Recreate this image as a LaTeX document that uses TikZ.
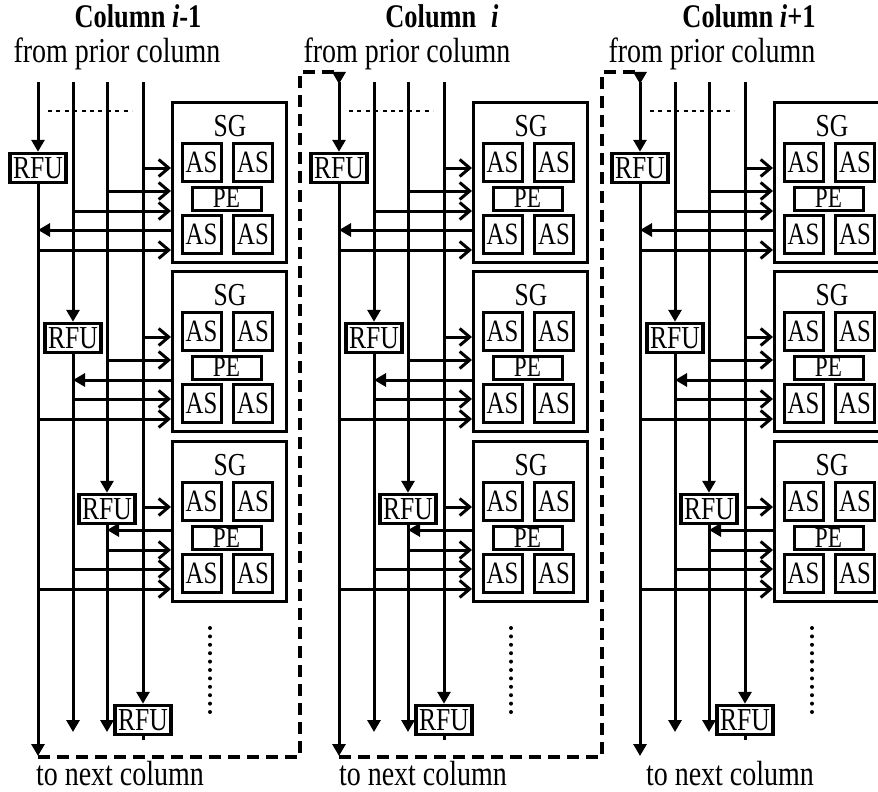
\documentclass[tikz,border=0pt]{standalone}
\usepackage{fontspec}
\setmainfont{Liberation Serif}[FakeStretch=0.8]
\usetikzlibrary{arrows.meta}
\begin{document}
\begin{tikzpicture}[x=1pt,y=-1pt,
  wire/.style={line width=3pt},
  tipr/.style={wire,-{Straight Barb[length=10pt,width=17pt]}},
  tipl/.style={wire,{Triangle[length=12pt,width=13pt]}-},
  darr/.style={wire,-{Triangle[length=12pt,width=13pt]}},
  rfubox/.style={draw,line width=3.5pt,inner sep=0pt,minimum width=56pt,minimum height=29pt,font=\fontsize{32}{32}\selectfont},
  sgbox/.style={draw,line width=3pt,inner sep=0pt,minimum width=114pt,minimum height=160pt,anchor=north west},
  sglbl/.style={inner sep=0pt,font=\fontsize{32}{32}\selectfont},
  asbox/.style={draw,line width=3pt,inner sep=0pt,minimum width=39pt,minimum height=38pt,font=\fontsize{31}{31}\selectfont},
  pebox/.style={draw,line width=3pt,inner sep=0pt,minimum width=69pt,minimum height=23pt,font=\fontsize{29}{29}\selectfont},
  lbl/.style={font=\fontsize{35}{35}\selectfont,anchor=base,inner sep=0pt},
  ttl/.style={font=\fontsize{33}{33}\selectfont\bfseries,anchor=base,inner sep=0pt},
  dashline/.style={line width=3.5pt,dash pattern=on 12pt off 7pt},
  dotline/.style={line width=2.2pt,dash pattern=on 4pt off 4.4pt},
]
\useasboundingbox (0,0) rectangle (878,792);
\clip (0,0) rectangle (878,792);

\foreach \c in {0,1,2} {
  \pgfmathsetmacro\o{301*\c}
  % vertical line anchors
  \coordinate (top1-\c) at (38+\o,82);
  \coordinate (top2-\c) at (73+\o,82);
  \coordinate (top3-\c) at (107+\o,82);
  \coordinate (top4-\c) at (143+\o,82);
  \coordinate (in1-\c) at (38+\o,84);
  \coordinate (bot1-\c) at (38+\o,756);
  \coordinate (bot2-\c) at (73+\o,732);
  \coordinate (bot3-\c) at (107+\o,732);
  \coordinate (stub-\c) at (143+\o,740);
  % RFU boxes
  \node[rfubox] (rfu-\c-1) at (38+\o,168) {RFU};
  \node[rfubox] (rfu-\c-2) at (73+\o,338) {RFU};
  \node[rfubox] (rfu-\c-3) at (107+\o,509) {RFU};
  \node[rfubox] (rfu-\c-4) at (143+\o,720) {RFU};
  % SG groups
  \foreach \k/\t in {1/101,2/270,3/440} {
    \node[sgbox] (sg-\c-\k) at (171+\o,\t) {};
    \node[sglbl] (sgl-\c-\k) at (230+\o,\t+25) {SG};
    \node[asbox] (asa-\c-\k) at (201.5+\o,\t+61) {AS};
    \node[asbox] (asb-\c-\k) at (253+\o,\t+61) {AS};
    \node[pebox] (pe-\c-\k) at (226.5+\o,\t+97.5) {PE};
    \node[asbox] (asc-\c-\k) at (201.5+\o,\t+133.5) {AS};
    \node[asbox] (asd-\c-\k) at (253+\o,\t+133.5) {AS};
    \foreach \r/\dy in {1/67,2/90,3/110,4/129,5/149}
      \coordinate (row-\c-\k-\r) at (0,\t+\dy);
  }
  % vertical lines
  \draw[darr] (top1-\c) -- (rfu-\c-1.north);
  \draw[darr] (rfu-\c-1.south) -- (bot1-\c);
  \draw[darr] (top2-\c) -- (rfu-\c-2.north);
  \draw[darr] (rfu-\c-2.south) -- (bot2-\c);
  \draw[darr] (top3-\c) -- (rfu-\c-3.north);
  \draw[darr] (rfu-\c-3.south) -- (bot3-\c);
  \draw[darr] (top4-\c) -- (rfu-\c-4.north);
  \draw[wire] (rfu-\c-4.south) -- (stub-\c);
  % horizontal arrows to/from SG
  \foreach \k/\r/\j/\d in {1/1/4/r,1/2/3/r,1/3/2/r,1/4/1/l,1/5/1/r,
                           2/1/4/r,2/2/3/r,2/3/2/l,2/4/2/r,2/5/1/r,
                           3/1/4/r,3/2/3/l,3/3/3/r,3/4/2/r,3/5/1/r}
    \draw[tip\d] (top\j-\c |- row-\c-\k-\r) -- (sg-\c-\k.west |- row-\c-\k-\r);
  % dotted marks
  \draw[dotline] (48+\o,111) -- (132+\o,111);
  \foreach \i in {0,...,10}
    \fill (210+\o,628+8.4*\i) circle (2pt);
}

% dashed connectors between columns
\coordinate (dc-0-a) at (300,757);
\coordinate (dc-0-b) at (300,72);
\coordinate (dc-1-a) at (602,757);
\coordinate (dc-1-b) at (602,72);
\draw[dashline,-{Triangle[length=12pt,width=13pt]}] (bot1-0 |- dc-0-a) -- (dc-0-a) -- (dc-0-b) -- (in1-1 |- dc-0-b) -- (in1-1);
\draw[dashline,-{Triangle[length=12pt,width=13pt]}] (bot1-1 |- dc-1-a) -- (dc-1-a) -- (dc-1-b) -- (in1-2 |- dc-1-b) -- (in1-2);

% texts
\node[ttl] (t0) at (138,27.5) {Column \textit{i}-1};
\node[ttl] (t1) at (442,27.5) {Column\hspace{0.45em}\textit{i}};
\node[ttl] (t2) at (749,27.5) {Column \textit{i}+1};
\node[lbl] (f0) at (117,63) {from prior column};
\node[lbl] (f1) at (407,63) {from prior column};
\node[lbl] (f2) at (712,63) {from prior column};
\node[lbl] (n0) at (120,785) {to next column};
\node[lbl] (n1) at (423,785) {to next column};
\node[lbl] (n2) at (730,785) {to next column};
\end{tikzpicture}
\end{document}
